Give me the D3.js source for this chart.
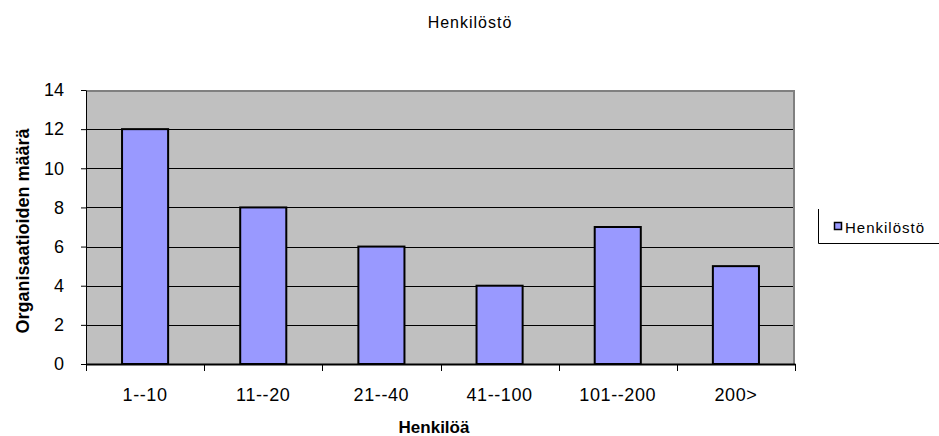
<!DOCTYPE html>
<html>
<head>
<meta charset="utf-8">
<script src="https://cdn.jsdelivr.net/npm/d3@7"></script>
<style>
body { margin: 0; background: #fff; }
text { font-family: "Liberation Sans", Arial, sans-serif; }
</style>
</head>
<body>
<div id="chart"></div>
<script>
var categories = ['1--10', '11--20', '21--40', '41--100', '101--200', '200>'];
var values = [12, 8, 6, 4, 7, 5];
var yTicks = [0, 2, 4, 6, 8, 10, 12, 14];
var seriesName = 'Henkilöstö';

var width = 939, height = 436;
var plot = { left: 86, top: 90, right: 795, bottom: 364 };

var svg = d3.select('#chart').append('svg')
    .attr('width', width)
    .attr('height', height);

var x = d3.scaleBand()
    .domain(categories)
    .range([plot.left, plot.right])
    .paddingInner(0.61)
    .paddingOuter(0.305);

var y = d3.scaleLinear()
    .domain([0, 14])
    .range([plot.bottom, plot.top]);

// plot background
svg.append('rect')
    .attr('x', plot.left)
    .attr('y', plot.top)
    .attr('width', plot.right - plot.left)
    .attr('height', plot.bottom - plot.top)
    .attr('fill', '#c0c0c0');

// grid lines
svg.append('g')
    .selectAll('line')
    .data(yTicks.filter(function(d) { return d > 0 && d < 14; }))
    .join('line')
    .attr('x1', plot.left)
    .attr('x2', plot.right)
    .attr('y1', function(d) { return Math.round(y(d)) + 0.5; })
    .attr('y2', function(d) { return Math.round(y(d)) + 0.5; })
    .attr('stroke', '#000')
    .attr('stroke-width', 1);

// gray frame top and right
svg.append('path')
    .attr('d', 'M' + plot.left + ',' + (plot.top + 1) + 'H' + (plot.right - 1) + 'V' + plot.bottom)
    .attr('fill', 'none')
    .attr('stroke', '#808080')
    .attr('stroke-width', 2);

// bars
svg.append('g')
    .selectAll('rect')
    .data(values)
    .join('rect')
    .attr('x', function(d, i) { return x(categories[i]); })
    .attr('y', function(d) { return y(d); })
    .attr('width', x.bandwidth())
    .attr('height', function(d) { return y(0) - y(d); })
    .attr('fill', '#9999ff')
    .attr('stroke', '#000')
    .attr('stroke-width', 2);

// y axis
var yAxis = svg.append('g')
    .attr('transform', 'translate(' + plot.left + ',0)')
    .call(d3.axisLeft(y).tickValues(yTicks).tickSize(5).tickSizeOuter(0).tickPadding(17));
yAxis.select('.domain').attr('stroke', '#000');
yAxis.selectAll('text').attr('font-size', 18).attr('fill', '#000');

// x axis
var xAxis = svg.append('g')
    .attr('transform', 'translate(0,' + plot.bottom + ')')
    .call(d3.axisBottom(x).tickSize(0).tickPadding(24));
xAxis.select('.domain').attr('stroke', '#000').attr('stroke-width', 2);
xAxis.selectAll('text')
    .attr('font-size', 18)
    .attr('letter-spacing', 0.6)
    .attr('fill', '#000');

// x boundary ticks
svg.append('g')
    .selectAll('line')
    .data(d3.range(categories.length + 1))
    .join('line')
    .attr('x1', function(i) { return Math.round(plot.left + i * (plot.right - plot.left) / categories.length) + 0.5; })
    .attr('x2', function(i) { return Math.round(plot.left + i * (plot.right - plot.left) / categories.length) + 0.5; })
    .attr('y1', plot.bottom)
    .attr('y2', plot.bottom + 7)
    .attr('stroke', '#000');

// title
svg.append('text')
    .attr('x', 470)
    .attr('y', 28)
    .attr('text-anchor', 'middle')
    .attr('font-size', 16)
    .attr('letter-spacing', 1)
    .text(seriesName);

// axis titles
svg.append('text')
    .attr('x', 434)
    .attr('y', 433)
    .attr('text-anchor', 'middle')
    .attr('font-size', 17)
    .attr('font-weight', 'bold')
    .text('Henkilöä');

svg.append('text')
    .attr('transform', 'translate(29,231) rotate(-90)')
    .attr('text-anchor', 'middle')
    .attr('font-size', 18)
    .attr('font-weight', 'bold')
    .text('Organisaatioiden määrä');

// legend
var legend = svg.append('g');
legend.append('path')
    .attr('d', 'M818.5,209V243.5H939')
    .attr('fill', 'none')
    .attr('stroke', '#000');
legend.append('rect')
    .attr('x', 834.5)
    .attr('y', 222.5)
    .attr('width', 7)
    .attr('height', 7)
    .attr('fill', '#9999ff')
    .attr('stroke', '#000')
    .attr('stroke-width', 1.5);
legend.append('text')
    .attr('x', 845)
    .attr('y', 233)
    .attr('font-size', 15)
    .attr('letter-spacing', 1)
    .text(seriesName);
</script>
</body>
</html>
